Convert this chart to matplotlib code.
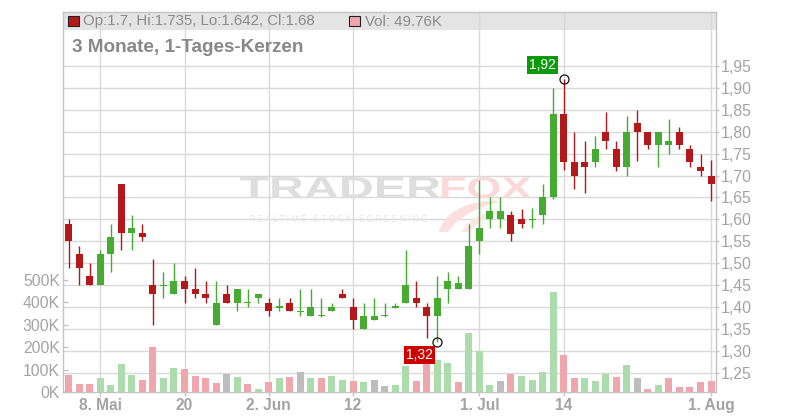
import matplotlib
matplotlib.use("Agg")
import matplotlib.pyplot as plt
import numpy as np
from matplotlib.patches import Rectangle, PathPatch
from matplotlib.path import Path
from matplotlib.textpath import TextPath
from matplotlib.font_manager import FontProperties
import matplotlib.transforms as mtransforms

plt.rcParams['font.family'] = ['Liberation Sans', 'DejaVu Sans']

# ---------------- data (daily candles, 3 months) ----------------
opens = [1.59, 1.52, 1.47, 1.45, 1.52, 1.68, 1.57, 1.57, 1.45, 1.45,
         1.43, 1.46, 1.44, 1.43, 1.36, 1.43, 1.41, 1.41, 1.42, 1.41,
         1.40, 1.41, 1.39, 1.38, 1.38, 1.39, 1.43, 1.40, 1.35, 1.37,
         1.38, 1.40, 1.41, 1.42, 1.40, 1.38, 1.44, 1.44, 1.44, 1.55,
         1.60, 1.60, 1.61, 1.60, 1.60, 1.61, 1.65, 1.84, 1.73, 1.73,
         1.73, 1.80, 1.76, 1.72, 1.82, 1.80, 1.77, 1.77, 1.80, 1.76,
         1.72, 1.70]
highs = [1.60, 1.54, 1.50, 1.53, 1.59, 1.68, 1.61, 1.59, 1.51, 1.48,
         1.50, 1.47, 1.49, 1.46, 1.46, 1.45, 1.44, 1.44, 1.43, 1.42,
         1.42, 1.42, 1.44, 1.44, 1.42, 1.41, 1.44, 1.42, 1.41, 1.42,
         1.41, 1.41, 1.53, 1.46, 1.41, 1.47, 1.48, 1.47, 1.59, 1.69,
         1.65, 1.65, 1.62, 1.624, 1.626, 1.68, 1.90, 1.92, 1.80, 1.78,
         1.79, 1.845, 1.78, 1.836, 1.85, 1.80, 1.80, 1.83, 1.81, 1.77,
         1.75, 1.735]
lows = [1.49, 1.45, 1.45, 1.45, 1.48, 1.53, 1.53, 1.55, 1.36, 1.42,
        1.43, 1.41, 1.42, 1.41, 1.36, 1.41, 1.39, 1.40, 1.41, 1.38,
        1.39, 1.39, 1.38, 1.38, 1.378, 1.39, 1.42, 1.35, 1.35, 1.37,
        1.378, 1.398, 1.41, 1.40, 1.33, 1.32, 1.41, 1.44, 1.44, 1.52,
        1.58, 1.58, 1.55, 1.58, 1.58, 1.59, 1.647, 1.713, 1.67, 1.66,
        1.72, 1.76, 1.71, 1.70, 1.734, 1.76, 1.72, 1.75, 1.76, 1.72,
        1.70, 1.642]
closes = [1.55, 1.49, 1.45, 1.52, 1.56, 1.57, 1.58, 1.56, 1.43, 1.45,
          1.46, 1.44, 1.43, 1.42, 1.41, 1.41, 1.44, 1.41, 1.43, 1.39,
          1.40, 1.39, 1.39, 1.40, 1.38, 1.40, 1.42, 1.37, 1.38, 1.38,
          1.38, 1.40, 1.45, 1.41, 1.38, 1.42, 1.46, 1.455, 1.54, 1.58,
          1.62, 1.62, 1.567, 1.59, 1.60, 1.65, 1.84, 1.73, 1.70, 1.72,
          1.76, 1.78, 1.72, 1.80, 1.80, 1.77, 1.80, 1.78, 1.77, 1.73,
          1.71, 1.68]
volumes_k = [76, 36, 36, 62, 31, 125, 76, 54, 201, 62,
             107, 103, 71, 62, 40, 80, 67, 36, 13, 45,
             62, 67, 89, 62, 62, 71, 54, 49, 45, 54,
             27, 31, 116, 49, 150, 143, 129, 45, 263, 181,
             31, 49, 80, 71, 54, 89, 446, 165, 62, 62,
             49, 80, 67, 120, 62, 13, 31, 62, 22, 22,
             45, 49.76]
prev_close = 1.60  # close of the day before the first candle (estimated)

tick_idx = [3, 11, 19, 27, 39, 47, 61]
tick_labels = ['8. Mai', '20', '2. Jun', '12', '1. Jul', '14', '1. Aug']
price_ticks = [1.25, 1.30, 1.35, 1.40, 1.45, 1.50, 1.55, 1.60, 1.65,
               1.70, 1.75, 1.80, 1.85, 1.90, 1.95]
vol_ticks = [0, 100, 200, 300, 400, 500]
title = '3 Monate, 1-Tages-Kerzen'

# ---------------- styling ----------------
GREEN = '#47ab33'
RED = '#b3191a'
V_GREEN = '#acdcab'
V_RED = '#f0a6ad'
V_GRAY = '#bdbdbd'
GRID = '#d9d9d9'
AXIS = '#c4c4c4'
LABEL = '#a3a3a3'

W, H = 800, 420
fig = plt.figure(figsize=(W / 100, H / 100), dpi=100)
L, R, T, B = 63, 716, 12, 392
ax_p = fig.add_axes([L / W, 1 - B / H, (R - L) / W, (B - T) / H])
ax_v = ax_p.twinx()

o = np.array(opens); h = np.array(highs); lo = np.array(lows); c = np.array(closes)
v = np.array(volumes_k, dtype=float)
n = len(o)
x = np.arange(n)

# limits
ax_p.set_xlim(-0.54, n - 1 + 0.47)
ax_p.set_ylim(1.2059, 2.0735)
ax_v.set_ylim(0, 1696)

# legend band (under grid)
ax_p.add_patch(Rectangle((0, (B - 30) / (B - T)), 1, 1 - (B - 30) / (B - T),
                         transform=ax_p.transAxes, facecolor='#e4e4e4',
                         edgecolor='none', zorder=0.2))

# grid
ax_p.set_axisbelow(True)
ax_p.grid(True, color=GRID, linewidth=1.0)

# watermark
def px(X, Y):
    return (X / W, 1 - Y / H)

def fitted_text(ax, s, X0, Y0, X1, Y1, color, weight='bold', alpha=1.0):
    fp = FontProperties(family='Liberation Sans', weight=weight)
    path = TextPath((0, 0), s, size=1, prop=fp)
    bb = path.get_extents()
    fx0, fx1 = X0 / W, X1 / W
    fy0, fy1 = 1 - Y1 / H, 1 - Y0 / H
    tr = (mtransforms.Affine2D()
          .translate(-bb.x0, -bb.y0)
          .scale((fx1 - fx0) / bb.width, (fy1 - fy0) / bb.height)
          .translate(fx0, fy0)) + fig.transFigure
    patch = PathPatch(path, transform=tr, facecolor=color, edgecolor='none',
                      zorder=0.8, alpha=alpha, clip_on=False)
    ax.add_patch(patch)

fitted_text(ax_p, 'TRADER', 240, 177, 440, 198, '#dedede')
fitted_text(ax_p, 'FOX', 442, 177, 531, 198, '#fbd9d9')
fitted_text(ax_p, 'R E A L T I M E   S T O C K   S C R E E N I N G',
            250, 215, 427, 222, '#e6e6e6', weight='normal')

# fox tail swoosh of the logo
verts = [px(439, 232), px(444, 212), px(468, 199), px(502, 201),
         px(478, 207), px(458, 217), px(448, 232), px(439, 232)]
codes = [Path.MOVETO, Path.CURVE4, Path.CURVE4, Path.CURVE4,
         Path.CURVE4, Path.CURVE4, Path.CURVE4, Path.CLOSEPOLY]
ax_p.add_patch(PathPatch(Path(verts, codes), transform=fig.transFigure,
                         facecolor='#fbdede', edgecolor='none', zorder=0.8,
                         clip_on=False))
verts2 = [px(462, 232), px(468, 218), px(485, 211), px(505, 212),
          px(490, 216), px(476, 222), px(470, 232), px(462, 232)]
ax_p.add_patch(PathPatch(Path(verts2, codes), transform=fig.transFigure,
                         facecolor='#fde6e6', edgecolor='none', zorder=0.8,
                         clip_on=False))

# candles
up = c >= o
ccol = np.where(up, GREEN, RED)
ax_p.vlines(x, lo, h, colors=ccol, linewidth=1.0, zorder=3)
min_h = 0.0024
body_low = np.minimum(o, c)
body_h = np.abs(c - o)
small = body_h < min_h
body_low = np.where(small, body_low - (min_h - body_h) / 2, body_low)
body_h = np.maximum(body_h, min_h)
ax_p.bar(x, body_h, bottom=body_low, width=0.665, color=ccol, linewidth=0, zorder=4)

# volume
prev = np.concatenate([[prev_close], c[:-1]])
d = np.round(c - prev, 4)
vcol = np.where(d > 0, V_GREEN, np.where(d < 0, V_RED, V_GRAY))
ax_v.bar(x, v, width=0.665, color=vcol, linewidth=0, zorder=2)

# axes styling
for s in ax_p.spines.values():
    s.set_color(AXIS)
    s.set_linewidth(1.0)
for s in ax_v.spines.values():
    s.set_visible(False)
ax_v.patch.set_visible(False)

ax_p.yaxis.tick_right()
ax_p.set_yticks(price_ticks)
ax_p.set_yticklabels([f"{t:.2f}".replace('.', ',') for t in price_ticks])
ax_p.tick_params(axis='y', length=1.8, width=1, color=AXIS, pad=1.3,
                 labelsize=11.4, labelcolor=LABEL)
ax_p.set_xticks(tick_idx)
ax_p.set_xticklabels(tick_labels)
ax_p.tick_params(axis='x', length=3, width=1, color=AXIS, pad=1.5,
                 labelsize=11.2, labelcolor=LABEL)
for lbl in ax_p.get_xticklabels():
    lbl.set_fontweight('bold')

ax_v.yaxis.tick_left()
ax_v.set_yticks(vol_ticks)
ax_v.set_yticklabels([f"{t}K" for t in vol_ticks])
ax_v.tick_params(axis='y', direction='in', length=3.6, width=1, color=AXIS,
                 pad=2.2, labelsize=11.3, labelcolor=LABEL)
ax_v.tick_params(axis='x', bottom=False, labelbottom=False)

# high / low markers with labels
hi_i = int(np.argmax(h))
lo_i = int(np.argmin(lo))
ax_v.plot([hi_i], [h[hi_i]], 'o', ms=6.5, mfc='none', mec='#111111', mew=0.9,
          transform=ax_p.transData, zorder=7, clip_on=False)
ax_v.plot([lo_i], [lo[lo_i]], 'o', ms=6.5, mfc='none', mec='#111111', mew=0.9,
          transform=ax_p.transData, zorder=7, clip_on=False)
ax_v.annotate(f"{h[hi_i]:.2f}".replace('.', ','), xy=(hi_i, h[hi_i]),
              xycoords=ax_p.transData, xytext=(-15.2, 10.4), textcoords='offset points',
              ha='center', va='center', fontsize=10, color='white', zorder=8,
              bbox=dict(boxstyle='square,pad=0.15', facecolor='#0a9a0a', edgecolor='none'))
ax_v.annotate(f"{lo[lo_i]:.2f}".replace('.', ','), xy=(lo_i, lo[lo_i]),
              xycoords=ax_p.transData, xytext=(-12.9, -9.1), textcoords='offset points',
              ha='center', va='center', fontsize=10, color='white', zorder=8,
              bbox=dict(boxstyle='square,pad=0.15', facecolor='#cc0000', edgecolor='none'))

# legend line (last candle)
last_col = GREEN if c[-1] >= o[-1] else RED
last_vcol = vcol[-1]
fig.add_artist(Rectangle((68.3 / W, 1 - 26.3 / H), 10.7 / W, 10 / H,
                         transform=fig.transFigure, facecolor=last_col,
                         edgecolor='#222222', linewidth=0.8))
fig.text(83.3 / W, 1 - 21.5 / H,
         f"Op:{o[-1]:g}, Hi:{h[-1]:g}, Lo:{lo[-1]:g}, Cl:{c[-1]:g}",
         ha='left', va='center', fontsize=10.8, color='#8a8a8a')
fig.add_artist(Rectangle((349.3 / W, 1 - 26.3 / H), 10.7 / W, 10 / H,
                         transform=fig.transFigure, facecolor=last_vcol,
                         edgecolor='#222222', linewidth=0.8))
fig.text(365 / W, 1 - 21.5 / H, f"Vol: {v[-1]:g}K",
         ha='left', va='center', fontsize=10.8, color='#8a8a8a')

fig.text(72 / W, 1 - 48 / H, title, ha='left', va='center',
         fontsize=13.6, fontweight='bold', color='#888888')

fig.savefig('out.png', dpi=100)
